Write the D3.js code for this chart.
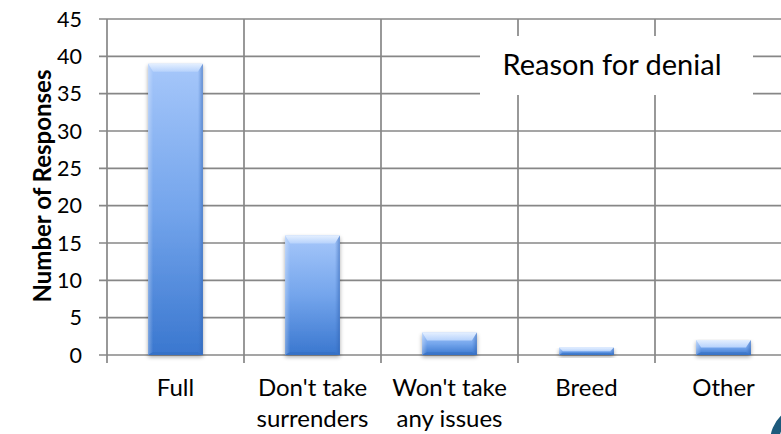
<!DOCTYPE html>
<html>
<head>
<meta charset="utf-8">
<script src="https://cdn.jsdelivr.net/npm/d3@7"></script>
<style>
  html, body { margin: 0; padding: 0; background: #fff; overflow: hidden; }
  svg { display: block; }
  text { font-family: Lato, "Open Sans", sans-serif; fill: #000; }
</style>
</head>
<body>
<svg id="chart" width="781" height="434"></svg>
<script>
// Survey responses by reason for denial
const categories = [["Full"], ["Don't take", "surrenders"], ["Won't take", "any issues"], ["Breed"], ["Other"]];
const responses = [39, 16, 3, 1, 2];
const yTicks = [0, 5, 10, 15, 20, 25, 30, 35, 40, 45];
const chartTitle = "Reason for denial";
const yTitle = "Number of Responses";

const W = 781, H = 434;
const plot = { left: 107, top: 19, bottom: 355, bandW: 137 };

const svg = d3.select("#chart");
const defs = svg.append("defs");

const x = d3.scaleBand()
  .domain(d3.range(categories.length))
  .range([plot.left, plot.left + plot.bandW * categories.length])
  .paddingInner(0).paddingOuter(0);
const y = d3.scaleLinear().domain([0, 45]).range([plot.bottom, plot.top]);

const barW = x.bandwidth() * 0.40;
const gridColor = "#878787";

// bar body gradient
const g1 = defs.append("linearGradient").attr("id", "barFill").attr("x1", 0).attr("y1", 0).attr("x2", 0).attr("y2", 1);
g1.append("stop").attr("offset", "0%").attr("stop-color", "#a6c7fa");
g1.append("stop").attr("offset", "50%").attr("stop-color", "#74a5ec");
g1.append("stop").attr("offset", "100%").attr("stop-color", "#3a77cf");

const gTop = defs.append("linearGradient").attr("id", "bevelTop").attr("x1", 0).attr("y1", 0).attr("x2", 0).attr("y2", 1);
gTop.append("stop").attr("offset", "0%").attr("stop-color", "#e4efff");
gTop.append("stop").attr("offset", "100%").attr("stop-color", "#b6d2fc");

const gR = defs.append("linearGradient").attr("id", "bevelRight").attr("x1", 0).attr("y1", 0).attr("x2", 1).attr("y2", 0);
gR.append("stop").attr("offset", "0%").attr("stop-color", "#3a6fc0").attr("stop-opacity", 0.0);
gR.append("stop").attr("offset", "100%").attr("stop-color", "#2d5fae").attr("stop-opacity", 0.55);

const gL = defs.append("linearGradient").attr("id", "bevelLeft").attr("x1", 0).attr("y1", 0).attr("x2", 1).attr("y2", 0);
gL.append("stop").attr("offset", "0%").attr("stop-color", "#ffffff").attr("stop-opacity", 0.3);
gL.append("stop").attr("offset", "100%").attr("stop-color", "#ffffff").attr("stop-opacity", 0.0);

const shadow = defs.append("filter").attr("id", "shadow").attr("x", "-20%").attr("y", "-20%").attr("width", "140%").attr("height", "160%");
shadow.append("feGaussianBlur").attr("in", "SourceAlpha").attr("stdDeviation", 2);
shadow.append("feOffset").attr("dx", 0).attr("dy", 2).attr("result", "b");
shadow.append("feComponentTransfer").append("feFuncA").attr("type", "linear").attr("slope", 0.35);
const merge = shadow.append("feMerge");
merge.append("feMergeNode");
merge.append("feMergeNode").attr("in", "SourceGraphic");

// horizontal gridlines with their tick marks
const grid = svg.append("g");
grid.selectAll("line.h").data(yTicks).join("line")
  .attr("x1", plot.left - 8).attr("x2", W + 20)
  .attr("y1", d => y(d)).attr("y2", d => y(d))
  .attr("stroke", gridColor).attr("stroke-width", 1.7);

// vertical category boundaries, extending below the axis as ticks
const bounds = d3.range(categories.length + 1).map(i => plot.left + i * x.bandwidth());
grid.selectAll("line.v").data(bounds).join("line")
  .attr("x1", d => d).attr("x2", d => d)
  .attr("y1", plot.top).attr("y2", plot.bottom + 8)
  .attr("stroke", gridColor).attr("stroke-width", 1.7);

// y tick labels
svg.append("g").selectAll("text").data(yTicks).join("text")
  .attr("x", 82).attr("y", d => y(d))
  .attr("dy", "0.36em")
  .attr("text-anchor", "end")
  .style("font-size", "21.5px")
  .text(d => d);

// y axis title
svg.append("text")
  .attr("transform", `translate(51,186) rotate(-90)`)
  .attr("text-anchor", "middle")
  .style("font-size", "24px").style("font-weight", "bold")
  .text(yTitle);

// category labels
const xl = svg.append("g").selectAll("text").data(categories).join("text")
  .attr("text-anchor", "middle")
  .attr("transform", (d, i) => `translate(${x(i) + x.bandwidth() / 2},396)`)
  .style("font-size", "24px");
xl.selectAll("tspan").data(d => d).join("tspan")
  .attr("x", 0).attr("y", (d, j) => j * 31)
  .text(d => d);

// bars with bevelled edges
const bars = svg.append("g").selectAll("g").data(responses).join("g")
  .attr("transform", (d, i) => `translate(${x(i) + (x.bandwidth() - barW) / 2},${y(d)})`);

bars.append("rect")
  .attr("width", barW)
  .attr("height", d => y(0) - y(d))
  .attr("fill", "url(#barFill)")
  .attr("filter", "url(#shadow)");

bars.each(function (d) {
  const h = y(0) - y(d);
  const b = Math.min(8, h / 2);
  const s = Math.min(5, h / 2);
  const g = d3.select(this);
  g.append("path")
    .attr("d", `M0,0 L${barW},0 L${barW - s},${b} L${s},${b} Z`)
    .attr("fill", "url(#bevelTop)");
  g.append("path")
    .attr("d", `M${barW},0 L${barW},${h} L${barW - s},${h - s * 0.6} L${barW - s},${b} Z`)
    .attr("fill", "url(#bevelRight)");
  g.append("path")
    .attr("d", `M0,0 L${s},${b} L${s},${h - s * 0.6} L0,${h} Z`)
    .attr("fill", "url(#bevelLeft)");
  g.append("path")
    .attr("d", `M0,${h} L${s},${h - s * 0.6} L${barW - s},${h - s * 0.6} L${barW},${h} Z`)
    .attr("fill", "#2f66b8").attr("fill-opacity", 0.35);
});

// chart title in a white box
svg.append("rect")
  .attr("x", 480).attr("y", 36).attr("width", 273).attr("height", 59)
  .attr("fill", "#fff");
svg.append("text")
  .attr("x", 612).attr("y", 75)
  .attr("text-anchor", "middle")
  .style("font-size", "29px")
  .text(chartTitle);

// corner emblem
svg.append("path")
  .attr("transform", "translate(807,442)")
  .attr("d", d3.arc().innerRadius(28).outerRadius(37).startAngle(0).endAngle(2 * Math.PI)())
  .attr("fill", "#1d5a7c");
</script>
</body>
</html>
